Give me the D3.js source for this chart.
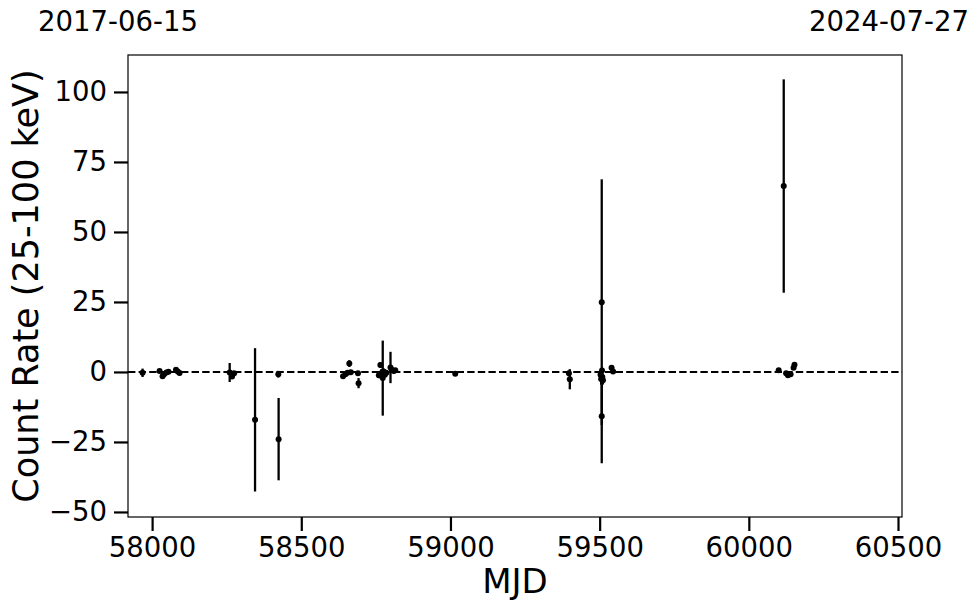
<!DOCTYPE html>
<html>
<head>
<meta charset="utf-8">
<script src="https://cdn.jsdelivr.net/npm/d3@7"></script>
<style>
  html, body { margin: 0; padding: 0; background: #fff; }
  svg { display: block; }
  text { font-family: "DejaVu Sans", sans-serif; fill: #000; }
</style>
</head>
<body>
<svg id="chart" width="980" height="613"></svg>
<script>
// ---- data ----
const mjd = [
  57968, 58025, 58035, 58040, 58048, 58055, 58080, 58086, 58092,
  58260, 58268, 58275,
  58345, 58423, 58424,
  58640, 58648, 58655, 58661, 58666, 58690, 58692,
  58760, 58765, 58768, 58771, 58773, 58776, 58780, 58785, 58799, 58804, 58810, 58815,
  59016,
  59397, 59400,
  59503, 59505, 59507, 59507, 59508, 59509, 59511,
  59540, 59545,
  60100, 60117, 60125, 60131, 60140, 60150, 60153
];
const rate = [
  -0.3, 0.3, -1.5, -0.8, -0.2, 0.1, 0.8, 0.2, -0.4,
  -0.2, -1.6, -0.5,
  -17.1, -0.8, -24.0,
  -1.5, -0.8, -0.3, 3.0, -0.1, -0.5, -4.0,
  -1.2, 2.5, -0.5, -1.5, -2.2, 0.2, -1.0, -0.3, 1.6, 0.7, 0.3, 0.6,
  -0.6,
  -0.5, -2.6,
  -1.0, -2.5, 24.9, -15.8, 0.5, -1.8, -3.0,
  1.5, 0.2,
  0.6, 66.4, -0.5, -1.2, -0.8, 1.5, 2.6
];
const rateErr = [
  1.5, 0.6, 0.8, 0.5, 0.6, 0.5, 0.7, 0.6, 0.8,
  3.4, 0.9, 0.7,
  25.6, 1.2, 14.7,
  0.8, 0.6, 0.7, 1.2, 0.6, 0.6, 1.8,
  1.0, 1.0, 1.5, 1.2, 13.4, 1.0, 0.8, 0.7, 5.6, 1.0, 0.8, 0.6,
  0.6,
  1.0, 3.6,
  1.5, 2.0, 43.9, 16.8, 1.0, 2.5, 1.5,
  0.8, 0.7,
  0.6, 38.1, 0.6, 0.7, 0.6, 0.8, 0.8
];
const xTicks = [58000, 58500, 59000, 59500, 60000, 60500];
const yTicks = [-50, -25, 0, 25, 50, 75, 100];
const dateLabels = ["2017-06-15", "2024-07-27"];
const xLabel = "MJD";
const yLabel = "Count Rate (25-100 keV)";

// ---- layout ----
const svg = d3.select("#chart");
const L = 128, R = 902, T = 55, B = 517;
const x = d3.scaleLinear().domain([57919.2, 60513.4]).range([L, R]);
const y = d3.scaleLinear().domain([-51.8, 113.2]).range([B, T]);

const data = mjd.map((m, i) => ({ m, v: rate[i], e: rateErr[i] }));

// zero line
svg.append("line")
  .attr("x1", L).attr("x2", R)
  .attr("y1", y(0)).attr("y2", y(0))
  .attr("stroke", "#000").attr("stroke-width", 2)
  .attr("stroke-dasharray", "7.4,3.2");

// error bars
svg.append("g").selectAll("line").data(data).join("line")
  .attr("x1", d => x(d.m)).attr("x2", d => x(d.m))
  .attr("y1", d => y(d.v + d.e)).attr("y2", d => y(d.v - d.e))
  .attr("stroke", "#000").attr("stroke-width", 2.3);

// points
svg.append("g").selectAll("circle").data(data).join("circle")
  .attr("cx", d => x(d.m)).attr("cy", d => y(d.v))
  .attr("r", 3).attr("fill", "#000");

// axes
const xAxis = d3.axisBottom(x).tickValues(xTicks).tickSize(14).tickPadding(6)
  .tickFormat(d3.format("d"));
const gx = svg.append("g").attr("transform", `translate(0,${B})`).call(xAxis);
gx.select(".domain").remove();
gx.selectAll(".tick line").attr("stroke-width", 2.2);
gx.selectAll(".tick text").style("font-size", "27.5px")
  .style("font-family", "DejaVu Sans");

const yAxis = d3.axisLeft(y).tickValues(yTicks).tickSize(14).tickPadding(7)
  .tickFormat(d => d < 0 ? "\u2212" + Math.abs(d) : String(d));
const gy = svg.append("g").attr("transform", `translate(${L},0)`).call(yAxis);
gy.select(".domain").remove();
gy.selectAll(".tick line").attr("stroke-width", 2.2);
gy.selectAll(".tick text").style("font-size", "27.5px")
  .style("font-family", "DejaVu Sans");

// frame
svg.append("rect").attr("x", L).attr("y", T).attr("width", R - L).attr("height", B - T)
  .attr("fill", "none").attr("stroke", "#000").attr("stroke-width", 1.2);

// axis labels
svg.append("text").attr("x", (L + R) / 2).attr("y", 593)
  .attr("text-anchor", "middle").style("font-size", "34px").text(xLabel);
svg.append("text")
  .attr("transform", `translate(38,${(T + B) / 2}) rotate(-90)`)
  .attr("text-anchor", "middle").style("font-size", "35px").text(yLabel);

// top date labels
svg.append("text").attr("x", 118).attr("y", 31).attr("text-anchor", "middle")
  .style("font-size", "27.5px").text(dateLabels[0]);
svg.append("text").attr("x", 889).attr("y", 31).attr("text-anchor", "middle")
  .style("font-size", "27.5px").text(dateLabels[1]);
</script>
</body>
</html>
